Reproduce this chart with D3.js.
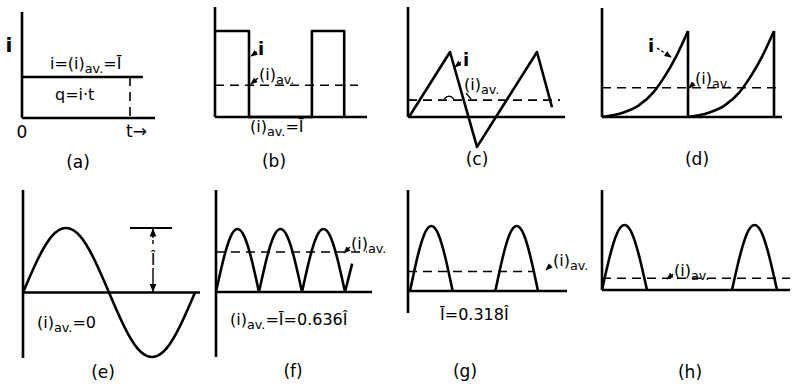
<!DOCTYPE html>
<html>
<head>
<meta charset="utf-8">
<title>Average current of various waveforms</title>
<script src="https://cdn.jsdelivr.net/npm/d3@7"></script>
<style>body{margin:0;background:#fff}</style>
</head>
<body>
<svg width="792" height="388"></svg>
<script>
    // (a) steady current: level and the time mark t
    const dcLevel = 1;
    const dcTime = 1;

    // (b) rectangular pulses
    const rectT = [0, 1, 1, 2.85, 2.85, 3.8, 3.8];
    const rectI = [1, 1, 0, 0, 1, 1, 0];
    const rectAvg = 0.37;

    // (c) triangular wave (goes negative)
    const triT = [0.1, 4.2, 6.9, 12.9, 14.4];
    const triI = [0, 1, -0.46, 1, 0.15];
    const triAvg = 0.26;

    // (d) exponential rise, sudden drop (two periods)
    const expT = [0, 0.24, 0.42, 0.6, 0.74, 0.86, 1];
    const expI = [0, 0.05, 0.13, 0.29, 0.49, 0.7, 1];
    const expPeriods = [0, 1];
    const expAvg = 0.34;

    // (e) one sine cycle, degrees
    const sineDeg = [0, 30, 60, 90, 120, 150, 180, 210, 240, 270, 300, 330, 360];
    const sineI = [0, 0.5, 0.87, 1, 0.87, 0.5, 0, -0.5, -0.87, -1, -0.87, -0.5, 0];

    // one half-sine hump, used by (f), (g), (h)
    const humpDeg = [0, 30, 60, 90, 120, 150, 180];
    const humpI = [0, 0.5, 0.87, 1, 0.87, 0.5, 0];

    // (f) full-wave rectified
    const fullStarts = [0, 180, 360];
    const fullTail = [[540, 0], [570, 0.45]];
    const fullAvg = 0.636;

    // (g) half-wave rectified
    const halfStarts = [0, 360];
    const halfAvg = 0.3;

    // (h) short pulses
    const pulseStarts = [0, 520];
    const pulseAvg = 0.18;

    const svg = d3.select("svg");
    const FONT = "'DejaVu Sans', sans-serif";
    const W = 2.6;

    svg.append("rect").attr("width", 792).attr("height", 388).attr("fill", "#fff");

    const defs = svg.append("defs");
    defs.append("marker")
        .attr("id", "ah")
        .attr("viewBox", "0 0 10 10")
        .attr("refX", 9).attr("refY", 5)
        .attr("markerWidth", 6).attr("markerHeight", 6)
        .attr("orient", "auto")
        .append("path")
        .attr("d", "M0,1 L10,5 L0,9 Z")
        .attr("fill", "#000");

    function seg(x1, y1, x2, y2, opts = {}) {
        return svg.append("line")
            .attr("x1", x1).attr("y1", y1).attr("x2", x2).attr("y2", y2)
            .attr("stroke", "#000")
            .attr("stroke-width", opts.w || W)
            .attr("stroke-dasharray", opts.dash || null)
            .attr("marker-end", opts.arrow ? "url(#ah)" : null);
    }

    function curve(points, sx, sy, c = d3.curveLinear) {
        svg.append("path")
            .attr("d", d3.line().x(d => sx(d[0])).y(d => sy(d[1])).curve(c)(points))
            .attr("fill", "none")
            .attr("stroke", "#000")
            .attr("stroke-width", W)
            .attr("stroke-linejoin", "round");
    }

    // text with "_" parts as subscripts
    function label(x, y, parts, anchor = "start", size = 16, weight = "normal") {
        const t = svg.append("text")
            .attr("x", x).attr("y", y)
            .attr("text-anchor", anchor)
            .attr("font-family", FONT)
            .attr("font-size", size)
            .attr("font-weight", weight)
            .attr("fill", "#000");
        let shift = 0;
        parts.forEach(p => {
            const sub = p.startsWith("_");
            const off = sub ? 4 : 0;
            t.append("tspan")
                .attr("dy", off - shift)
                .attr("font-size", sub ? size * 0.8 : size)
                .text(sub ? p.slice(1) : p);
            shift = off;
        });
    }

    function axes(x0, yTop, yBot, base, x1) {
        seg(x0, yTop, x0, yBot);
        seg(x0, base, x1, base);
    }

    function avgLine(sy, v, x0, x1) {
        seg(x0, sy(v), x1, sy(v), { w: 1.6, dash: "9,6" });
    }

    // ---------- (a)
    {
        const x = d3.scaleLinear().domain([0, 1]).range([22, 130]);
        const y = d3.scaleLinear().domain([0, 1]).range([118, 77]);
        axes(x(0), 12, y(0), y(0), 155);
        curve([[0, dcLevel], [1.12, dcLevel]], x, y);
        seg(x(dcTime), y(dcLevel), x(dcTime), y(0), { w: 1.6, dash: "9,6" });
        label(9, 52, ["i"], "middle", 20, "bold");
        label(50, 69, ["i=(i)", "_av.", "=Ī"]);
        label(55, 100, ["q=i·t"]);
        label(22, 138, ["0"], "middle", 17);
        label(126, 137, ["t→"], "start", 17);
        label(78, 168, ["(a)"], "middle", 17);
    }

    // ---------- (b)
    {
        const x = d3.scaleLinear().domain([0, 1]).range([215, 249]);
        const y = d3.scaleLinear().domain([0, 1]).range([117, 31]);
        axes(x(0), 7, y(0), y(0), 367);
        curve(d3.zip(rectT, rectI), x, y);
        avgLine(y, rectAvg, x(0), 358);
        label(258, 55, ["i"], "start", 18, "bold");
        seg(257, 52, 251, 56, { w: 1.2, arrow: true });
        label(259, 80, ["(i)", "_av."]);
        seg(258, 78, 251, 84, { w: 1.2, arrow: true });
        label(250, 132, ["(i)", "_av.", "=Ī"]);
        label(274, 167, ["(b)"], "middle", 17);
    }

    // ---------- (c)
    {
        const x = d3.scaleLinear().domain([0, 1]).range([408, 418]);
        const y = d3.scaleLinear().domain([0, 1]).range([117, 52]);
        axes(x(0), 7, y(0), y(0), 565);
        curve(d3.zip(triT, triI), x, y);
        avgLine(y, triAvg, x(0), 560);
        seg(x(0), y(triAvg), x(0) + 4, y(triAvg), { w: 1.6 });
        svg.append("path")
            .attr("d", `M${x(3.6)},${y(triAvg) - 1} q5,-6 10,0`)
            .attr("fill", "none").attr("stroke", "#000").attr("stroke-width", 1.3);
        label(463, 66, ["i"], "start", 18, "bold");
        seg(461, 62, 455, 67, { w: 1.2, arrow: true });
        label(464, 90, ["(i)", "_av."]);
        seg(466, 93, 471, 99, { w: 1.2 });
        label(477, 165, ["(c)"], "middle", 17);
    }

    // ---------- (d)
    {
        const x = d3.scaleLinear().domain([0, 1]).range([602, 688]);
        const y = d3.scaleLinear().domain([0, 1]).range([117, 31]);
        axes(x(0), 8, y(0), y(0), 782);
        expPeriods.forEach(k => {
            curve(expT.map((t, j) => [k + t, expI[j]]), x, y, d3.curveMonotoneX);
            seg(x(k + 1), y(1), x(k + 1), y(0));
        });
        avgLine(y, expAvg, x(0), 780);
        label(648, 52, ["i"], "start", 18, "bold");
        seg(657, 48, 671, 57, { w: 1.2, dash: "3,2", arrow: true });
        label(695, 84, ["(i)", "_av."]);
        seg(694, 83, 689, 88, { w: 1.2, arrow: true });
        label(697, 165, ["(d)"], "middle", 17);
    }

    // ---------- (e)
    {
        const x = d3.scaleLinear().domain([0, 360]).range([23, 195]);
        const y = d3.scaleLinear().domain([-1, 1]).range([357, 228]);
        axes(x(0), 190, 358, y(0), 200);
        curve(d3.zip(sineDeg, sineI), x, y, d3.curveNatural);
        seg(130, y(1), 172, y(1), { w: 2 });
        seg(153, 244, 153, y(1) + 1, { w: 1.4, dash: "4,2", arrow: true });
        seg(153, 268, 153, y(0) - 1, { w: 1.4, arrow: true });
        label(153, 265, ["Î"], "middle", 16);
        label(37, 328, ["(i)", "_av.", "=0"]);
        label(103, 378, ["(e)"], "middle", 17);
    }

    // ---------- (f)
    {
        const x = d3.scaleLinear().domain([0, 180]).range([216, 259]);
        const y = d3.scaleLinear().domain([0, 1]).range([292, 229]);
        axes(x(0), 190, 357, y(0), 372);
        fullStarts.forEach(s => curve(humpDeg.map((d, j) => [s + d, humpI[j]]), x, y, d3.curveNatural));
        curve(fullTail, x, y);
        avgLine(y, fullAvg, x(0), 367);
        label(351, 249, ["(i)", "_av."]);
        seg(350, 247, 344, 253, { w: 1.2, arrow: true });
        label(230, 325, ["(i)", "_av.", "=Ī=0.636Î"]);
        label(293, 377, ["(f)"], "middle", 17);
    }

    // ---------- (g)
    {
        const x = d3.scaleLinear().domain([0, 540]).range([410, 538]);
        const y = d3.scaleLinear().domain([0, 1]).range([291, 226]);
        axes(408, 190, 313, y(0), 567);
        halfStarts.forEach(s => curve(humpDeg.map((d, j) => [s + d, humpI[j]]), x, y, d3.curveNatural));
        avgLine(y, halfAvg, 408, 533);
        label(553, 266, ["(i)", "_av."]);
        seg(551, 265, 546, 270, { w: 1.2, arrow: true });
        label(440, 320, ["Ī=0.318Î"]);
        label(465, 377, ["(g)"], "middle", 17);
    }

    // ---------- (h)
    {
        const x = d3.scaleLinear().domain([0, 180]).range([602, 647]);
        const y = d3.scaleLinear().domain([0, 1]).range([290, 225]);
        axes(x(0), 190, y(0), y(0), 790);
        pulseStarts.forEach(s => curve(humpDeg.map((d, j) => [s + d, humpI[j]]), x, y, d3.curveNatural));
        avgLine(y, pulseAvg, x(0), 790);
        label(674, 276, ["(i)", "_av."]);
        seg(673, 274, 667, 279, { w: 1.2, arrow: true });
        label(690, 378, ["(h)"], "middle", 17);
    }
</script>
</body>
</html>
